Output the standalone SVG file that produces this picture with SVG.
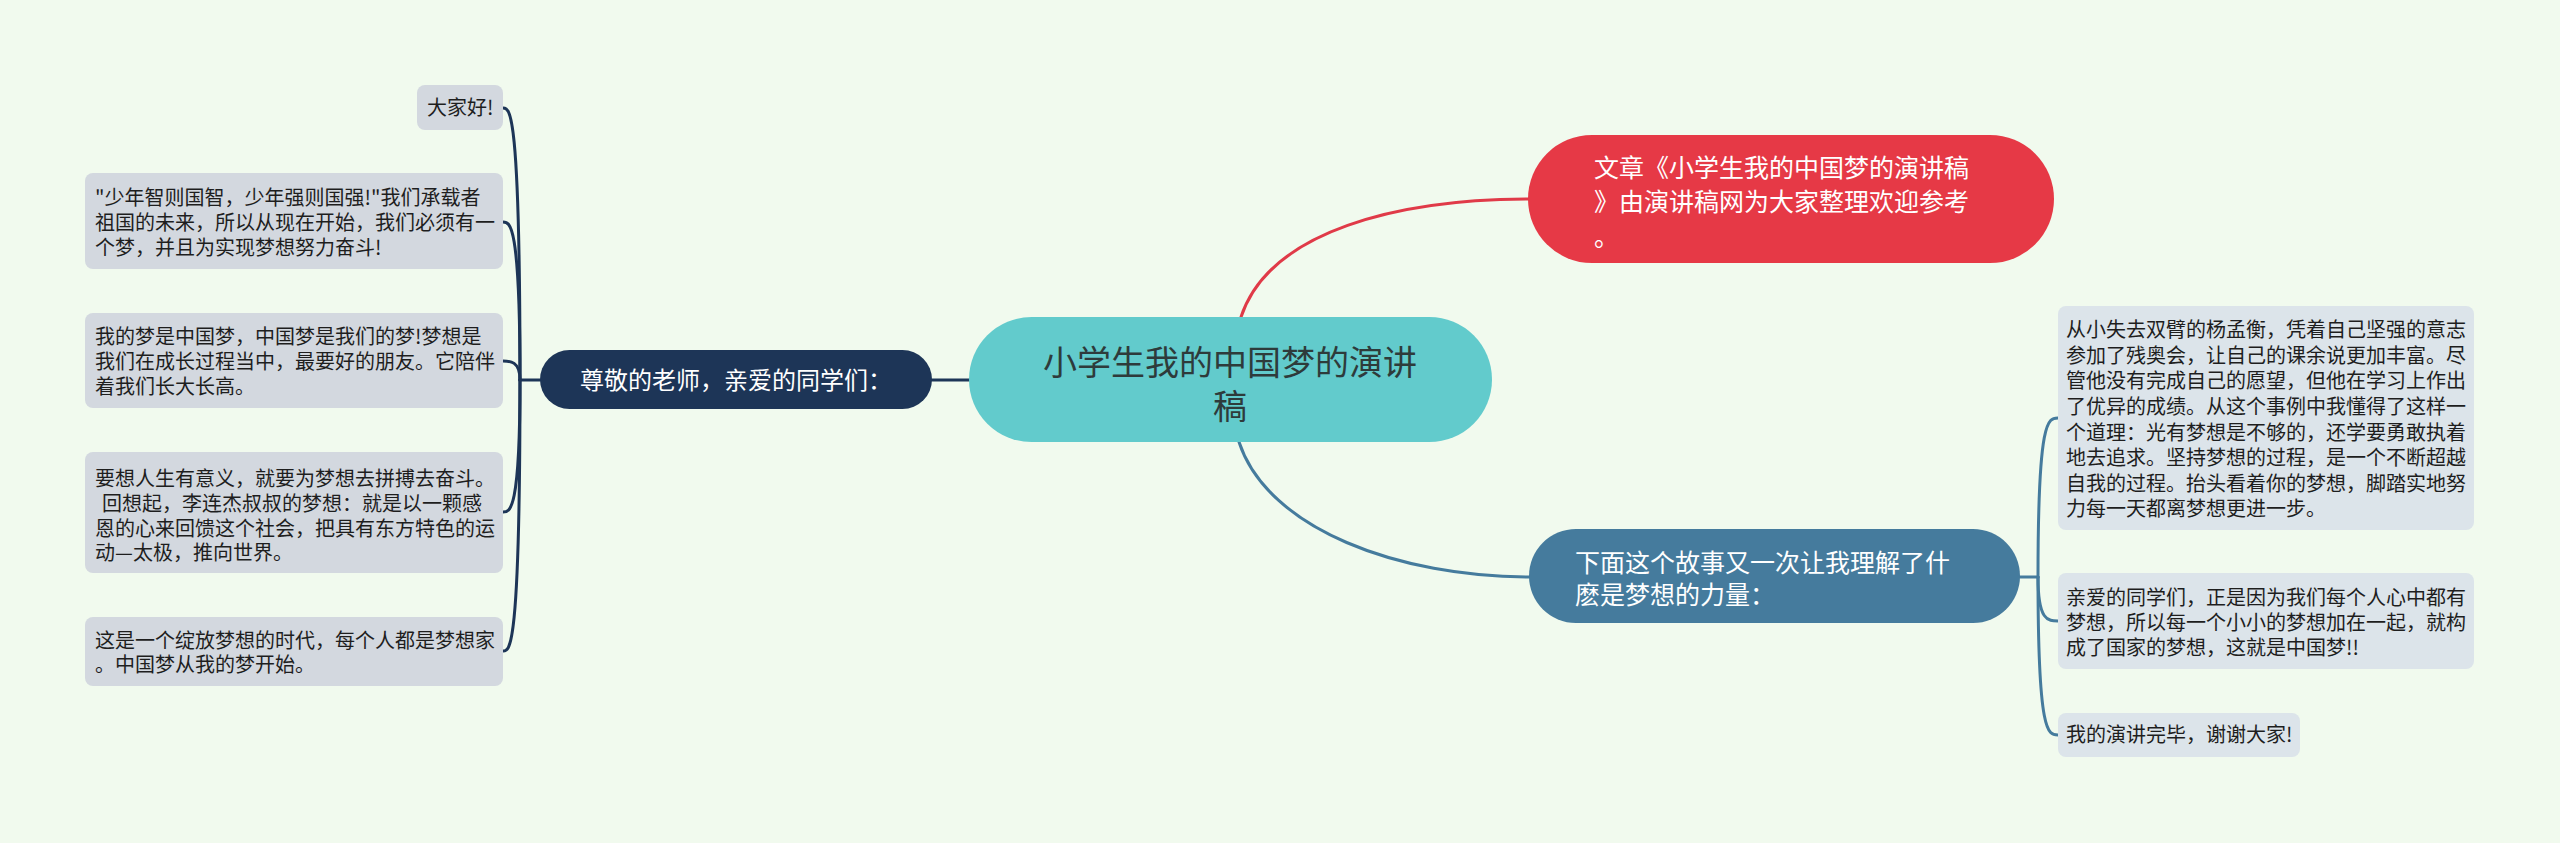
<svg xmlns="http://www.w3.org/2000/svg" width="2560" height="843" viewBox="0 0 2560 843">
<style>
text{font-family:"Noto Sans CJK SC","Noto Sans",sans-serif;}
.leafL{fill:#d3d8df;}
.leafR{fill:#dce4ea;}
.lt{font-size:20px;fill:#1e1e1e;}
.conn{fill:none;stroke-width:3;stroke-linecap:round;}
</style>
<rect width="2560" height="843" fill="#f1faee"/>
<g id="connectors">
<path class="conn" stroke="#e03a48" d="M1241,317 C1270,230 1400,199 1530,199"/>
<path class="conn" stroke="#457b9d" d="M1239,442 C1268,530 1400,577 1530,577"/>
<path class="conn" stroke="#1d3557" d="M969,380 L932,380"/>
<path class="conn" stroke="#1d3557" d="M540,380 L520,380"/>
<path class="conn" stroke="#1d3557" d="M520,380 C520,108 510,108 503,108"/>
<path class="conn" stroke="#1d3557" d="M520,380 C520,222 510,222 503,222"/>
<path class="conn" stroke="#1d3557" d="M520,380 C520,361 510,361 503,361"/>
<path class="conn" stroke="#1d3557" d="M520,380 C520,512 510,512 503,512"/>
<path class="conn" stroke="#1d3557" d="M520,380 C520,651 510,651 503,651"/>
<path class="conn" stroke="#457b9d" d="M2020,577 L2038,577"/>
<path class="conn" stroke="#457b9d" d="M2038,577 C2038,418 2048,418 2058,418"/>
<path class="conn" stroke="#457b9d" d="M2038,577 C2038,621 2048,621 2058,621"/>
<path class="conn" stroke="#457b9d" d="M2038,577 C2038,735 2048,735 2058,735"/>
</g>
<g id="center">
<rect x="969" y="317" width="523" height="125" rx="62.5" fill="#62cbcc"/>
<text x="1230" y="375" font-size="34" fill="#2e3b3b" text-anchor="middle">小学生我的中国梦的演讲</text>
<text x="1230" y="419" font-size="34" fill="#2e3b3b" text-anchor="middle">稿</text>
</g>
<g id="red">
<rect x="1528" y="135" width="526" height="128" rx="64" fill="#e63946"/>
<text x="1594" y="177" font-size="25" fill="#ffffff">文章《小学生我的中国梦的演讲稿</text>
<text x="1594" y="211" font-size="25" fill="#ffffff">》由演讲稿网为大家整理欢迎参考</text>
<text x="1594" y="246" font-size="25" fill="#ffffff">。</text>
</g>
<g id="blue">
<rect x="1529" y="529" width="491" height="94" rx="47" fill="#457b9d"/>
<text x="1575" y="572" font-size="25" fill="#ffffff">下面这个故事又一次让我理解了什</text>
<text x="1575" y="604" font-size="25" fill="#ffffff">麽是梦想的力量：</text>
</g>
<g id="navy">
<rect x="540" y="350" width="392" height="59" rx="29.5" fill="#1d3557"/>
<text x="736" y="389" font-size="24" fill="#ffffff" text-anchor="middle">尊敬的老师，亲爱的同学们：</text>
</g>
<g id="l1">
<rect class="leafL" x="417" y="85" width="86" height="45" rx="8"/>
<text class="lt" x="427" y="115">大家好!</text>
</g>
<g id="l2">
<rect class="leafL" x="85" y="173" width="418" height="96" rx="8"/>
<text class="lt" x="95" y="205">"少年智则国智，少年强则国强!"我们承载者</text>
<text class="lt" x="95" y="230">祖国的未来，所以从现在开始，我们必须有一</text>
<text class="lt" x="95" y="255">个梦，并且为实现梦想努力奋斗!</text>
</g>
<g id="l3">
<rect class="leafL" x="85" y="313" width="418" height="95" rx="8"/>
<text class="lt" x="95" y="344">我的梦是中国梦，中国梦是我们的梦!梦想是</text>
<text class="lt" x="95" y="369">我们在成长过程当中，最要好的朋友。它陪伴</text>
<text class="lt" x="95" y="394">着我们长大长高。</text>
</g>
<g id="l4">
<rect class="leafL" x="85" y="452" width="418" height="121" rx="8"/>
<text class="lt" x="95" y="486">要想人生有意义，就要为梦想去拼搏去奋斗。</text>
<text class="lt" x="102" y="511">回想起，李连杰叔叔的梦想：就是以一颗感</text>
<text class="lt" x="95" y="536">恩的心来回馈这个社会，把具有东方特色的运</text>
<text class="lt" x="95" y="560">动—太极，推向世界。</text>
</g>
<g id="l5">
<rect class="leafL" x="85" y="617" width="418" height="69" rx="8"/>
<text class="lt" x="95" y="648">这是一个绽放梦想的时代，每个人都是梦想家</text>
<text class="lt" x="95" y="672">。中国梦从我的梦开始。</text>
</g>
<g id="r1">
<rect class="leafR" x="2058" y="306" width="416" height="224" rx="8"/>
<text class="lt" x="2066" y="337">从小失去双臂的杨孟衡，凭着自己坚强的意志</text>
<text class="lt" x="2066" y="363">参加了残奥会，让自己的课余说更加丰富。尽</text>
<text class="lt" x="2066" y="388">管他没有完成自己的愿望，但他在学习上作出</text>
<text class="lt" x="2066" y="414">了优异的成绩。从这个事例中我懂得了这样一</text>
<text class="lt" x="2066" y="440">个道理：光有梦想是不够的，还学要勇敢执着</text>
<text class="lt" x="2066" y="465">地去追求。坚持梦想的过程，是一个不断超越</text>
<text class="lt" x="2066" y="491">自我的过程。抬头看着你的梦想，脚踏实地努</text>
<text class="lt" x="2066" y="516">力每一天都离梦想更进一步。</text>
</g>
<g id="r2">
<rect class="leafR" x="2058" y="573" width="416" height="96" rx="8"/>
<text class="lt" x="2066" y="605">亲爱的同学们，正是因为我们每个人心中都有</text>
<text class="lt" x="2066" y="630">梦想，所以每一个小小的梦想加在一起，就构</text>
<text class="lt" x="2066" y="655">成了国家的梦想，这就是中国梦!!</text>
</g>
<g id="r3">
<rect class="leafR" x="2058" y="713" width="242" height="44" rx="8"/>
<text class="lt" x="2066" y="742">我的演讲完毕，谢谢大家!</text>
</g>
</svg>
